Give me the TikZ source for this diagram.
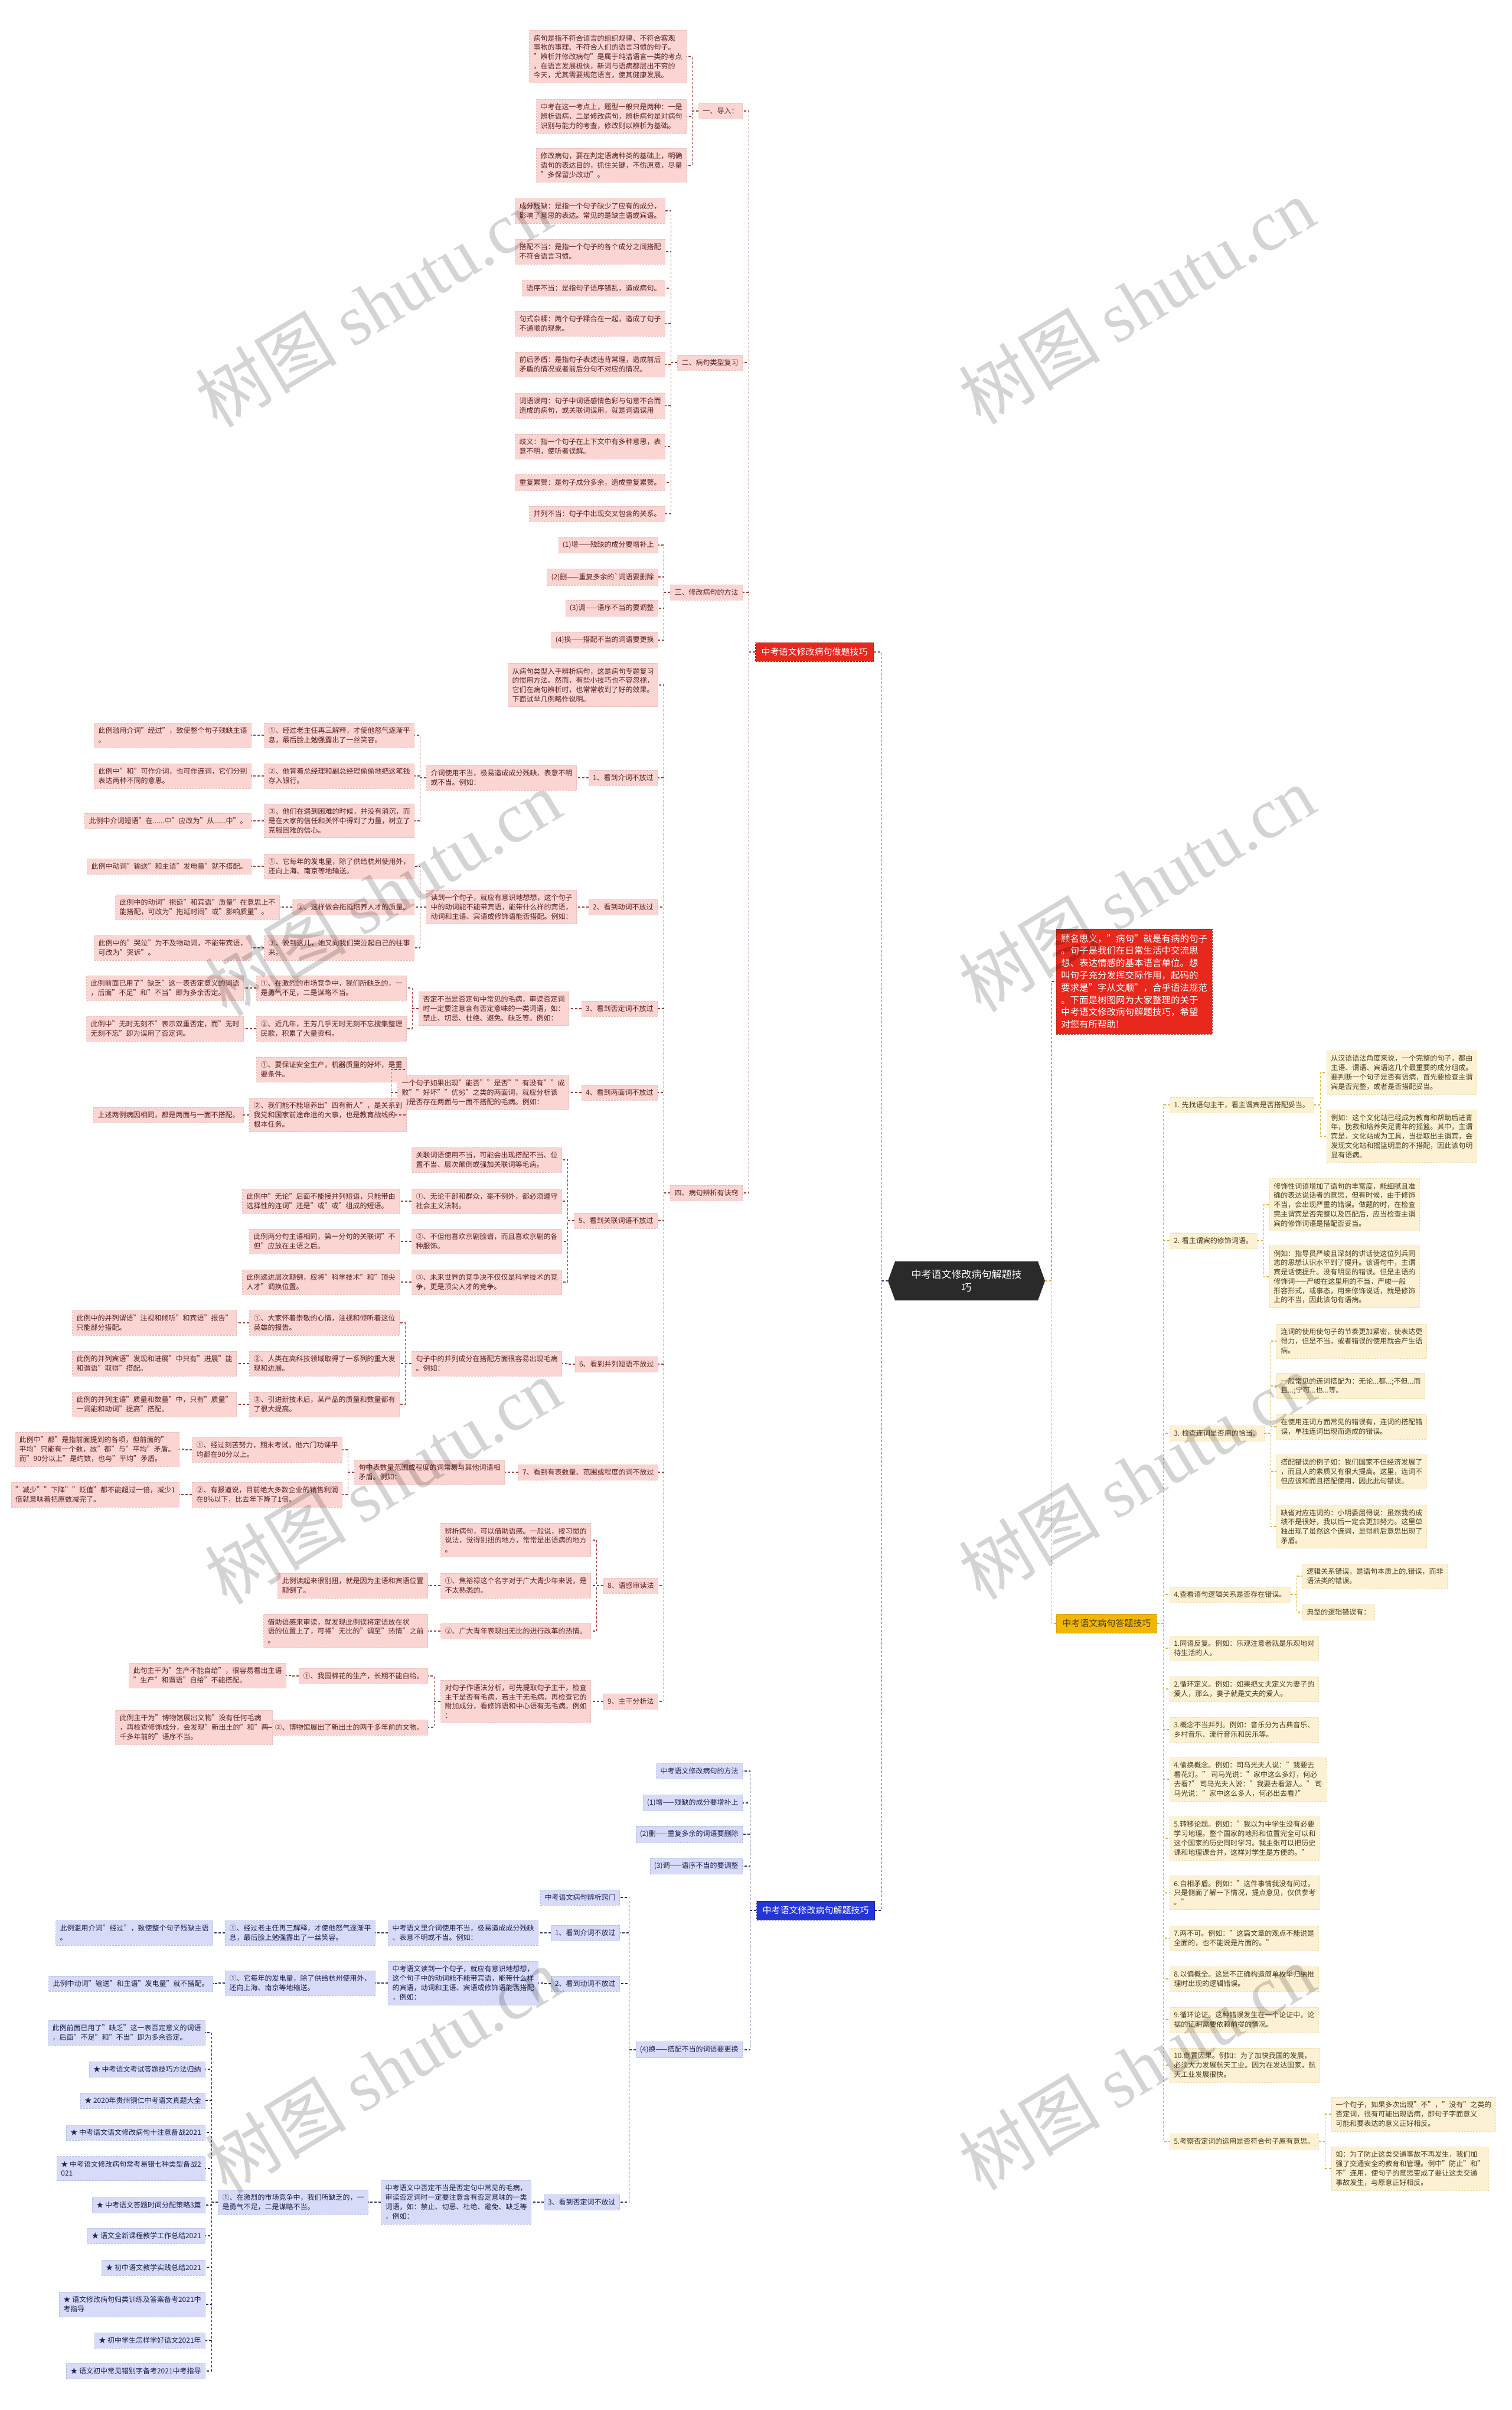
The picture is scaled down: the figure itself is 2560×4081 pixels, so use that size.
\documentclass[tikz,border=0pt]{standalone}
\usepackage{fontspec}
\setmainfont{Noto Sans CJK SC}
\newfontfamily\wmserif{Liberation Serif}
\usetikzlibrary{shapes.symbols}
\definecolor{rfill}{HTML}{FAD5D2}
\definecolor{rdraw}{HTML}{EDB9B6}
\definecolor{rtext}{HTML}{5B2222}
\definecolor{rlineC}{HTML}{A83C3A}
\definecolor{rrootC}{HTML}{E8281C}
\definecolor{yfill}{HTML}{FDF1D3}
\definecolor{ydraw}{HTML}{F0DCA5}
\definecolor{ytext}{HTML}{4A3B20}
\definecolor{ylineC}{HTML}{E0B43A}
\definecolor{yrootC}{HTML}{F2B705}
\definecolor{bfill}{HTML}{D7DBF7}
\definecolor{bdraw}{HTML}{B5BCEB}
\definecolor{btext}{HTML}{1E2250}
\definecolor{blineC}{HTML}{27307A}
\definecolor{brootC}{HTML}{2435D5}
\definecolor{ctrfill}{HTML}{2A2A2A}
\tikzset{
  base/.style={font=\fontsize{12}{15.7}\selectfont, align=left, inner xsep=7pt, inner ysep=7.5pt, dash pattern=on 3pt off 2pt, line width=0.6pt},
  rbox/.style={base, fill=rfill, draw=rdraw, text=rtext},
  ybox/.style={base, fill=yfill, draw=ydraw, text=ytext},
  bbox/.style={base, fill=bfill, draw=bdraw, text=btext},
  rootbase/.style={font=\fontsize{15}{19}\selectfont, inner xsep=10pt, inner ysep=9pt, dash pattern=on 3pt off 2pt, line width=0.8pt},
  rroot/.style={rootbase, fill=rrootC, draw=rrootC!75!black, text=white},
  yroot/.style={rootbase, fill=yrootC, draw=yrootC!80!black, text=ytext},
  broot/.style={rootbase, fill=brootC, draw=brootC!70!black, text=white},
  rcon/.style={draw=rlineC, line width=1.3pt, dash pattern=on 4pt off 3pt},
  ycon/.style={draw=ylineC, line width=1.3pt, dash pattern=on 4pt off 3pt},
  bcon/.style={draw=blineC, line width=1.3pt, dash pattern=on 4pt off 3pt},
  wm/.style={rotate=31, text=black, text opacity=0.17, font=\fontsize{120}{120}\selectfont},
}
\newcommand\lconn[3]{\draw[#1] (#2.west) -- ++(-11,0) |- (#3.east);}
\newcommand\rconn[3]{\draw[#1] (#2.east) -- ++(11,0) |- (#3.west);}
\newcommand\RN[4]{\node[rbox,anchor=east] (#1) at (#2,#3) {#4};}
\newcommand\BN[4]{\node[bbox,anchor=east] (#1) at (#2,#3) {#4};}
\newcommand\YN[4]{\node[ybox,anchor=west] (#1) at (#2,#3) {#4};}
\begin{document}
\begin{tikzpicture}[x=1pt,y=-1pt]
\useasboundingbox (0,0) rectangle (2560,4081);
\fill[white] (0,0) rectangle (2560,4081);

% central
\node[signal, signal to=west and east, signal pointer angle=140, fill=ctrfill, text=white, font=\fontsize{17}{22}\selectfont, align=center, minimum width=266pt, minimum height=66pt, inner sep=4pt] (ctr) at (1637,2169) {中考语文修改病句解题技\\巧};

% description
\node[anchor=west, fill=rrootC, draw=rrootC!75!black, dash pattern=on 3pt off 2pt, text=white, align=left, font=\fontsize{15.5}{20.8}\selectfont, inner xsep=8pt, inner ysep=9pt] (Desc) at (1789,1662) {顾名思义，"病句"就是有病的句子\\。句子是我们在日常生活中交流思\\想、表达情感的基本语言单位。想\\叫句子充分发挥交际作用，起码的\\要求是"字从文顺"，合乎语法规范\\。下面是树图网为大家整理的关于\\中考语文修改病句解题技巧，希望\\对您有所帮助!};

% ===== red branch =====
\node[rroot, anchor=east] (R0) at (1480,1104) {中考语文修改病句做题技巧};
\RN{A}{1258}{188}{一、导入：}
\RN{A1}{1163}{96}{病句是指不符合语言的组织规律、不符合客观\\事物的事理、不符合人们的语言习惯的句子。\\"辨析并修改病句"是属于纯洁语言一类的考点\\，在语言发展极快，新词与语病都层出不穷的\\今天，尤其需要规范语言，使其健康发展。}
\RN{A2}{1163}{197}{中考在这一考点上，题型一般只是两种：一是\\辨析语病，二是修改病句，辨析病句是对病句\\识别与能力的考查，修改则以辨析为基础。}
\RN{A3}{1163}{280}{修改病句，要在判定语病种类的基础上，明确\\语句的表达目的，抓住关键，不伤原意，尽量\\"多保留少改动"。}

\RN{B}{1258}{614}{二、病句类型复习}
\RN{B1}{1127}{357}{成分残缺：是指一个句子缺少了应有的成分，\\影响了意思的表达。常见的是缺主语或宾语。}
\RN{B2}{1127}{426}{搭配不当：是指一个句子的各个成分之间搭配\\不符合语言习惯。}
\RN{B3}{1127}{488}{语序不当：是指句子语序错乱，造成病句。}
\RN{B4}{1127}{548}{句式杂糅：两个句子糅合在一起，造成了句子\\不通顺的现象。}
\RN{B5}{1127}{617}{前后矛盾：是指句子表述违背常理，造成前后\\矛盾的情况或者前后分句不对应的情况。}
\RN{B6}{1127}{687}{词语误用：句子中词语感情色彩与句意不合而\\造成的病句，或关联词误用，就是词语误用}
\RN{B7}{1127}{756}{歧义：指一个句子在上下文中有多种意思，表\\意不明，使听者误解。}
\RN{B8}{1127}{817}{重复累赘：是句子成分多余，造成重复累赘。}
\RN{B9}{1127}{870}{并列不当：句子中出现交叉包含的关系。}

\RN{C}{1258}{1003}{三、修改病句的方法}
\RN{C1}{1115}{923}{(1)增——残缺的成分要增补上}
\RN{C2}{1115}{977}{(2)删——重复多余的\textasciigrave 词语要删除}
\RN{C3}{1115}{1030}{(3)调——语序不当的要调整}
\RN{C4}{1115}{1084}{(4)换——搭配不当的词语要更换}

\RN{D}{1258}{2020}{四、病句辨析有诀窍}
\RN{D0}{1115}{1160}{从病句类型入手辨析病句，这是病句专题复习\\的惯用方法。然而，有些小技巧也不容忽视，\\它们在病句辨析时，也常常收到了好的效果。\\下面试举几例略作说明。}

\RN{D1}{1114}{1317}{1、看到介词不放过}
\RN{D1a}{977}{1317}{介词使用不当，极易造成成分残缺、表意不明\\或不当。例如：}
\RN{D1a1}{702}{1245}{①、经过老主任再三解释，才使他怒气逐渐平\\息，最后脸上勉强露出了一丝笑容。}
\RN{D1a1x}{426}{1245}{此例滥用介词"经过"，致使整个句子残缺主语\\。}
\RN{D1a2}{702}{1314}{②、他背着总经理和副总经理偷偷地把这笔钱\\存入银行。}
\RN{D1a2x}{426}{1314}{此例中"和"可作介词，也可作连词，它们分别\\表达两种不同的意思。}
\RN{D1a3}{702}{1390}{③、他们在遇到困难的时候，并没有消沉，而\\是在大家的信任和关怀中得到了力量，树立了\\克服困难的信心。}
\RN{D1a3x}{426}{1390}{此例中介词短语"在......中"应改为"从......中"。}

\RN{D2}{1114}{1536}{2、看到动词不放过}
\RN{D2a}{977}{1536}{读到一个句子，就应有意识地想想，这个句子\\中的动词能不能带宾语，能带什么样的宾语，\\动词和主语、宾语或修饰语能否搭配。例如：}
\RN{D2a1}{702}{1467}{①、它每年的发电量，除了供给杭州使用外，\\还向上海、南京等地输送。}
\RN{D2a1x}{426}{1467}{此例中动词"输送"和主语"发电量"就不搭配。}
\RN{D2a2}{702}{1536}{②、这样做会拖延培养人才的质量。}
\RN{D2a2x}{474}{1536}{此例中的动词"拖延"和宾语"质量"在意思上不\\能搭配，可改为"拖延时间"或"影响质量"。}
\RN{D2a3}{702}{1605}{③、说到这儿，她又向我们哭泣起自己的往事\\来。}
\RN{D2a3x}{426}{1605}{此例中的"哭泣"为不及物动词，不能带宾语，\\可改为"哭诉"。}

\RN{D3}{1114}{1708}{3、看到否定词不放过}
\RN{D3a}{964}{1708}{否定不当是否定句中常见的毛病，审读否定词\\时一定要注意含有否定意味的一类词语，如：\\禁止、切忌、杜绝、避免、缺乏等。例如：}
\RN{D3a1}{689}{1673}{①、在激烈的市场竞争中，我们所缺乏的，一\\是勇气不足，二是谋略不当。}
\RN{D3a1x}{413}{1673}{此例前面已用了"缺乏"这一表否定意义的词语\\，后面"不足"和"不当"即为多余否定。}
\RN{D3a2}{689}{1742}{②、近几年，王芳几乎无时无刻不忘搜集整理\\民歌，积累了大量资料。}
\RN{D3a2x}{413}{1742}{此例中"无时无刻不"表示双重否定，而"无时\\无刻不忘"即为误用了否定词。}

\RN{D4}{1114}{1850}{4、看到两面词不放过}
\RN{D4a}{964}{1850}{一个句子如果出现"能否""是否""有没有""成\\败""好坏""优劣"之类的两面词，就应分析该\\句是否存在两面与一面不搭配的毛病。例如：}
\RN{D4a1}{689}{1811}{①、要保证安全生产，机器质量的好坏，是重\\要条件。}
\RN{D4a2}{689}{1888}{②、我们能不能培养出"四有新人"，是关系到\\我党和国家前途命运的大事，也是教育战线的\\根本任务。}
\RN{D4a2x}{413}{1888}{上述两例病因相同，都是两面与一面不搭配。}

\RN{D5}{1114}{2067}{5、看到关联词语不放过}
\RN{D5a}{952}{1964}{关联词语使用不当，可能会出现搭配不当、位\\置不当、层次颠倒或强加关联词等毛病。}
\RN{D5b}{952}{2034}{①、无论干部和群众，毫不例外，都必须遵守\\社会主义法制。}
\RN{D5bx}{677}{2034}{此例中"无论"后面不能接并列短语，只能带由\\选择性的连词"还是"或"或"组成的短语。}
\RN{D5c}{952}{2102}{②、不但他喜欢京剧脸谱，而且喜欢京剧的各\\种服饰。}
\RN{D5cx}{677}{2102}{此例两分句主语相同，第一分句的关联词"不\\但"应放在主语之后。}
\RN{D5d}{952}{2171}{③、未来世界的竞争决不仅仅是科学技术的竞\\争，更是顶尖人才的竞争。}
\RN{D5dx}{677}{2171}{此例递进层次颠倒，应将"科学技术"和"顶尖\\人才"调换位置。}

\RN{D6}{1115}{2310}{6、看到并列短语不放过}
\RN{D6a}{952}{2309}{句子中的并列成分在搭配方面很容易出现毛病\\。例如：}
\RN{D6a1}{677}{2240}{①、大家怀着崇敬的心情，注视和倾听着这位\\英雄的报告。}
\RN{D6a1x}{401}{2240}{此例中的并列谓语"注视和倾听"和宾语"报告"\\只能部分搭配。}
\RN{D6a2}{677}{2309}{②、人类在高科技领域取得了一系列的重大发\\现和进展。}
\RN{D6a2x}{401}{2309}{此例的并列宾语"发现和进展"中只有"进展"能\\和谓语"取得"搭配。}
\RN{D6a3}{677}{2378}{③、引进新技术后，某产品的质量和数量都有\\了很大提高。}
\RN{D6a3x}{401}{2378}{此例的并列主语"质量和数量"中，只有"质量"\\一词能和动词"提高"搭配。}

\RN{D7}{1115}{2493}{7、看到有表数量、范围或程度的词不放过}
\RN{D7a}{855}{2493}{句中表数量范围或程度的词常易与其他词语相\\矛盾。例如：}
\RN{D7a1}{580}{2455}{①、经过刻苦努力，期末考试，他六门功课平\\均都在90分以上。}
\RN{D7a1x}{304}{2454}{此例中"都"是指前面提到的各项，但前面的"\\平均"只能有一个数，故"都"与"平均"矛盾。\\而"90分以上"是约数，也与"平均"矛盾。}
\RN{D7a2}{580}{2531}{②、有报道说，目前绝大多数企业的销售利润\\在8\%以下，比去年下降了1倍。}
\RN{D7a2x}{304}{2531}{"减少""下降""贬值"都不能超过一倍，减少1\\倍就意味着把原数减完了。}

\RN{D8}{1115}{2685}{8、语感审读法}
\RN{D8a}{1001}{2608}{辨析病句，可以借助语感。一般说，按习惯的\\说法，觉得别扭的地方，常常是出语病的地方\\。}
\RN{D8b}{1001}{2685}{①、焦裕禄这个名字对于广大青少年来说，是\\不太熟悉的。}
\RN{D8bx}{725}{2685}{此例读起来很别扭，就是因为主语和宾语位置\\颠倒了。}
\RN{D8c}{1001}{2762}{②、广大青年表现出无比的进行改革的热情。}
\RN{D8cx}{725}{2762}{借助语感来审读，就发现此例误将定语放在状\\语的位置上了，可将"无比的"调至"热情"之前\\。}

\RN{D9}{1115}{2881}{9、主干分析法}
\RN{D9a}{1001}{2881}{对句子作语法分析，可先提取句子主干，检查\\主干是否有毛病，若主干无毛病，再检查它的\\附加成分，看修饰语和中心语有无毛病。例如\\：}
\RN{D9a1}{725}{2838}{①、我国棉花的生产，长期不能自给。}
\RN{D9a1x}{485}{2837}{此句主干为"生产不能自给"，很容易看出主语\\"生产"和谓语"自给"不能搭配。}
\RN{D9a2}{725}{2925}{②、博物馆展出了新出土的两千多年前的文物。}
\RN{D9a2x}{462}{2925}{此例主干为"博物馆展出文物"没有任何毛病\\，再检查修饰成分，会发现"新出土的"和"两\\千多年前的"语序不当。}

% ===== blue branch =====
\node[broot, anchor=east] (E0) at (1482,3235) {中考语文修改病句解题技巧};
\BN{E1}{1258}{2999}{中考语文修改病句的方法}
\BN{E2}{1258}{3053}{(1)增——残缺的成分要增补上}
\BN{E3}{1258}{3106}{(2)删——重复多余的词语要删除}
\BN{E4}{1258}{3160}{(3)调——语序不当的要调整}
\BN{E5}{1258}{3471}{(4)换——搭配不当的词语要更换}
\BN{E51}{1050}{3213}{中考语文病句辨析窍门}
\BN{E52}{1050}{3273}{1、看到介词不放过}
\BN{E52a}{912}{3273}{中考语文里介词使用不当，极易造成成分残缺\\、表意不明或不当。例如：}
\BN{E52a1}{636}{3273}{①、经过老主任再三解释，才使他怒气逐渐平\\息，最后脸上勉强露出了一丝笑容。}
\BN{E52a1x}{361}{3273}{此例滥用介词"经过"，致使整个句子残缺主语\\。}
\BN{E53}{1050}{3359}{2、看到动词不放过}
\BN{E53a}{912}{3358}{中考语文读到一个句子，就应有意识地想想，\\这个句子中的动词能不能带宾语，能带什么样\\的宾语，动词和主语、宾语或修饰语能否搭配\\，例如：}
\BN{E53a1}{636}{3358}{①、它每年的发电量，除了供给杭州使用外，\\还向上海、南京等地输送。}
\BN{E53a1x}{361}{3359}{此例中动词"输送"和主语"发电量"就不搭配。}
\BN{E54}{1050}{3729}{3、看到否定词不放过}
\BN{E54a}{900}{3729}{中考语文中否定不当是否定句中常见的毛病，\\审读否定词时一定要注意含有否定意味的一类\\词语，如：禁止、切忌、杜绝、避免、缺乏等\\，例如：}
\BN{E54a1}{624}{3729}{①、在激烈的市场竞争中，我们所缺乏的，一\\是勇气不足，二是谋略不当。}
\BN{F1}{348}{3442}{此例前面已用了"缺乏"这一表否定意义的词语\\，后面"不足"和"不当"即为多余否定。}
\BN{F2}{348}{3504}{★ 中考语文考试答题技巧方法归纳}
\BN{F3}{348}{3557}{★ 2020年贵州铜仁中考语文真题大全}
\BN{F4}{348}{3611}{★ 中考语文语文修改病句十注意备战2021}
\BN{F5}{348}{3672}{★ 中考语文修改病句常考易错七种类型备战2\\021}
\BN{F6}{348}{3734}{★ 中考语文答题时间分配策略3篇}
\BN{F7}{348}{3786}{★ 语文全新课程教学工作总结2021}
\BN{F8}{348}{3840}{★ 初中语文教学实践总结2021}
\BN{F9}{348}{3902}{★ 语文修改病句归类训练及答案备考2021中\\考指导}
\BN{F10}{348}{3963}{★ 初中学生怎样学好语文2021年}
\BN{F11}{348}{4015}{★ 语文初中常见错别字备考2021中考指导}

% ===== yellow branch =====
\node[yroot, anchor=west] (Y0) at (1789,2749) {中考语文病句答题技巧};
\YN{Y1}{1981}{1871}{1. 先找语句主干，看主谓宾是否搭配妥当。}
\YN{Y1a}{2247}{1816}{从汉语语法角度来说，一个完整的句子，都由\\主语、谓语、宾语这几个最重要的成分组成。\\要判断一个句子是否有语病，首先要检查主谓\\宾是否完整，或者是否搭配妥当。}
\YN{Y1b}{2247}{1924}{例如：这个文化站已经成为教育和帮助后进青\\年，挽救和培养失足青年的摇篮。其中，主谓\\宾是，文化站成为工具，当提取出主谓宾，会\\发现文化站和摇篮明显的不搭配，因此该句明\\显有语病。}
\YN{Y2}{1981}{2101}{2. 看主谓宾的修饰词语。}
\YN{Y2a}{2150}{2040}{修饰性词语增加了语句的丰富度，能细腻且准\\确的表达说话者的意思，但有时候，由于修饰\\不当，会出现严重的错误。做题的时，在检查\\完主谓宾是否完整以及匹配后，应当检查主谓\\宾的修饰词语是搭配否妥当。}
\YN{Y2b}{2150}{2162}{例如：指导员严峻且深刻的讲话使这位列兵同\\志的思想认识水平到了提升。该语句中，主谓\\宾是话使提升。没有明显的错误。但是主语的\\修饰词——严峻在这里用的不当，严峻一般\\形容形式，或事态，用来修饰说话，就是修饰\\上的不当，因此该句有语病。}
\YN{Y3}{1981}{2427}{3. 检查连词是否用的恰当。}
\YN{Y3a}{2162}{2271}{连词的使用使句子的节奏更加紧密，使表达更\\得力，但是不当，或者错误的使用就会产生语\\病。}
\YN{Y3b}{2162}{2347}{一般常见的连词搭配为：无论...都...;不但...而\\且...;宁可...也...等。}
\YN{Y3c}{2162}{2416}{在使用连词方面常见的错误有，连词的搭配错\\误，单独连词出现而造成的错误。}
\YN{Y3d}{2162}{2492}{搭配错误的例子如：我们国家不但经济发展了\\，而且人的素质又有很大提高。这里，连词不\\但应该和而且搭配使用，因此此句错误。}
\YN{Y3e}{2162}{2585}{缺省对应连词的：小明委屈得说：虽然我的成\\绩不是很好，我以后一定会更加努力。这里单\\独出现了虽然这个连词，显得前后意思出现了\\矛盾。}
\YN{Y4}{1981}{2700}{4.查看语句逻辑关系是否存在错误。}
\YN{Y4a}{2206}{2669}{逻辑关系错误，是语句本质上的.错误，而非\\语法类的错误。}
\YN{Y4b}{2206}{2730}{典型的逻辑错误有：}
\YN{Y5}{1981}{2791}{1.同语反复。例如：乐观注意者就是乐观地对\\待生活的人。}
\YN{Y6}{1981}{2860}{2.循环定义。例如：如果把丈夫定义为妻子的\\爱人，那么，妻子就是丈夫的爱人。}
\YN{Y7}{1981}{2929}{3.概念不当并列。例如：音乐分为古典音乐、\\乡村音乐、流行音乐和民乐等。}
\YN{Y8}{1981}{3013}{4.偷换概念。例如：司马光夫人说："我要去\\看花灯。" 司马光说："家中这么多灯，何必\\去看?" 司马光夫人说："我要去看游人。" 司\\马光说："家中这么多人，何必出去看?"}
\YN{Y9}{1981}{3113}{5.转移论题。例如："我以为中学生没有必要\\学习地理。整个国家的地形和位置完全可以和\\这个国家的历史同时学习。我主张可以把历史\\课和地理课合并，这样对学生是方便的。"}
\YN{Y10}{1981}{3205}{6.自相矛盾。例如："这件事情我没有问过，\\只是侧面了解一下情况，提点意见，仅供参考\\。"}
\YN{Y11}{1981}{3282}{7.两不可。例如："这篇文章的观点不能说是\\全面的，也不能说是片面的。"}
\YN{Y12}{1981}{3351}{8.以偏概全。这是不正确构造简单枚举归纳推\\理时出现的逻辑错误。}
\YN{Y13}{1981}{3420}{9.循环论证。这种错误发生在一个论证中，论\\据的证明需要依赖前提的情况。}
\YN{Y14}{1981}{3497}{10.倒置因果。例如：为了加快我国的发展，\\必须大力发展航天工业。因为在发达国家，航\\天工业发展很快。}
\YN{Y15}{1981}{3626}{5.考察否定词的运用是否符合句子原有意思。}
\YN{Y15a}{2255}{3580}{一个句子，如果多次出现"不"，"没有"之类的\\否定词，很有可能出现语病，即句子字面意义\\可能和要表达的意义正好相反。}
\YN{Y15b}{2255}{3672}{如：为了防止这类交通事故不再发生，我们加\\强了交通安全的教育和管理。例中"防止"和"\\不"连用，使句子的意思变成了要让这类交通\\事故发生，与原意正好相反。}

% ===== connectors =====
\lconn{rcon}{ctr}{R0}
\lconn{bcon}{ctr}{E0}
\rconn{rcon}{ctr}{Desc}
\rconn{ycon}{ctr}{Y0}
\foreach \c in {A,B,C,D} {\lconn{rcon}{R0}{\c}}
\foreach \c in {A1,A2,A3} {\lconn{rcon}{A}{\c}}
\foreach \c in {B1,B2,B3,B4,B5,B6,B7,B8,B9} {\lconn{rcon}{B}{\c}}
\foreach \c in {C1,C2,C3,C4} {\lconn{rcon}{C}{\c}}
\foreach \c in {D0,D1,D2,D3,D4,D5,D6,D7,D8,D9} {\lconn{rcon}{D}{\c}}
\lconn{rcon}{D1}{D1a}
\foreach \c in {D1a1,D1a2,D1a3} {\lconn{rcon}{D1a}{\c}}
\foreach \c in {D1a1,D1a2,D1a3} {\lconn{rcon}{\c}{\c x}}
\lconn{rcon}{D2}{D2a}
\foreach \c in {D2a1,D2a2,D2a3} {\lconn{rcon}{D2a}{\c}}
\foreach \c in {D2a1,D2a2,D2a3} {\lconn{rcon}{\c}{\c x}}
\lconn{rcon}{D3}{D3a}
\foreach \c in {D3a1,D3a2} {\lconn{rcon}{D3a}{\c}}
\foreach \c in {D3a1,D3a2} {\lconn{rcon}{\c}{\c x}}
\lconn{rcon}{D4}{D4a}
\foreach \c in {D4a1,D4a2} {\lconn{rcon}{D4a}{\c}}
\lconn{rcon}{D4a2}{D4a2x}
\foreach \c in {D5a,D5b,D5c,D5d} {\lconn{rcon}{D5}{\c}}
\foreach \c in {D5b,D5c,D5d} {\lconn{rcon}{\c}{\c x}}
\lconn{rcon}{D6}{D6a}
\foreach \c in {D6a1,D6a2,D6a3} {\lconn{rcon}{D6a}{\c}}
\foreach \c in {D6a1,D6a2,D6a3} {\lconn{rcon}{\c}{\c x}}
\lconn{rcon}{D7}{D7a}
\foreach \c in {D7a1,D7a2} {\lconn{rcon}{D7a}{\c}}
\foreach \c in {D7a1,D7a2} {\lconn{rcon}{\c}{\c x}}
\foreach \c in {D8a,D8b,D8c} {\lconn{rcon}{D8}{\c}}
\foreach \c in {D8b,D8c} {\lconn{rcon}{\c}{\c x}}
\lconn{rcon}{D9}{D9a}
\foreach \c in {D9a1,D9a2} {\lconn{rcon}{D9a}{\c}}
\foreach \c in {D9a1,D9a2} {\lconn{rcon}{\c}{\c x}}

\foreach \c in {E1,E2,E3,E4,E5} {\lconn{bcon}{E0}{\c}}
\foreach \c in {E51,E52,E53,E54} {\lconn{bcon}{E5}{\c}}
\lconn{bcon}{E52}{E52a}
\lconn{bcon}{E52a}{E52a1}
\lconn{bcon}{E52a1}{E52a1x}
\lconn{bcon}{E53}{E53a}
\lconn{bcon}{E53a}{E53a1}
\lconn{bcon}{E53a1}{E53a1x}
\lconn{bcon}{E54}{E54a}
\lconn{bcon}{E54a}{E54a1}
\foreach \c in {F1,F2,F3,F4,F5,F6,F7,F8,F9,F10,F11} {\lconn{bcon}{E54a1}{\c}}

\foreach \c in {Y1,Y2,Y3,Y4,Y5,Y6,Y7,Y8,Y9,Y10,Y11,Y12,Y13,Y14,Y15} {\rconn{ycon}{Y0}{\c}}
\foreach \c in {Y1a,Y1b} {\rconn{ycon}{Y1}{\c}}
\foreach \c in {Y2a,Y2b} {\rconn{ycon}{Y2}{\c}}
\foreach \c in {Y3a,Y3b,Y3c,Y3d,Y3e} {\rconn{ycon}{Y3}{\c}}
\foreach \c in {Y4a,Y4b} {\rconn{ycon}{Y4}{\c}}
\foreach \c in {Y15a,Y15b} {\rconn{ycon}{Y15}{\c}}

% watermarks
\foreach \x/\y [count=\i] in {632/515, 1925/510, 648/1512, 1925/1505, 648/2508, 1925/2500, 648/3505, 1925/3500}
  \node[wm] (wm\i) at (\x,\y) {树图 {\wmserif shutu.cn}};
\end{tikzpicture}
\end{document}
